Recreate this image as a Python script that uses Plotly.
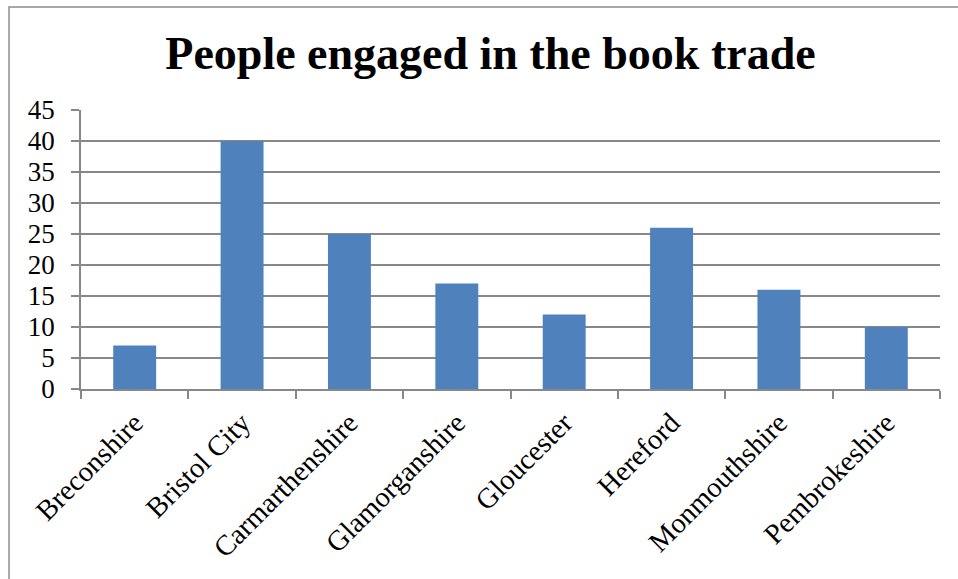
import plotly.graph_objects as go

# Book-trade workers per county
counties = ["Breconshire", "Bristol City", "Carmarthenshire", "Glamorganshire",
            "Gloucester", "Hereford", "Monmouthshire", "Pembrokeshire"]
people = [7, 40, 25, 17, 12, 26, 16, 10]
y_ticks = [0, 5, 10, 15, 20, 25, 30, 35, 40, 45]

serif = "Liberation Serif, DejaVu Serif, serif"
grid_grey = "#888888"

fig = go.Figure(
    go.Bar(
        x=counties,
        y=people,
        marker=dict(color="#4F81BD", line=dict(width=0)),
    )
)

fig.update_layout(
    width=958,
    height=579,
    margin=dict(l=81, r=18, t=110, b=190),
    paper_bgcolor="white",
    plot_bgcolor="white",
    bargap=0.6,
    showlegend=False,
    title=dict(
        text="<b>People engaged in the book trade</b>",
        x=0.512,
        xanchor="center",
        y=0.908,
        yanchor="middle",
        font=dict(family=serif, size=46, color="black"),
    ),
    font=dict(family=serif, size=20, color="black"),
    shapes=[
        dict(type="rect", xref="paper", yref="paper",
             x0=-0.0838, x1=1.1, y0=-1.0, y1=1.369,
             line=dict(color="#8c8c8c", width=1.5), layer="below"),
    ],
)

fig.update_xaxes(
    type="category",
    tickangle=-45,
    showgrid=False,
    showline=True,
    linecolor=grid_grey,
    linewidth=1.5,
    ticks="outside",
    tickson="boundaries",
    ticklen=8,
    tickwidth=1.5,
    tickcolor=grid_grey,
    tickfont=dict(family=serif, size=28.5),
    ticklabelstandoff=4,
    automargin=False,
)

fig.update_yaxes(
    range=[0, 45],
    tickvals=y_ticks,
    showgrid=True,
    gridcolor=grid_grey,
    gridwidth=1.5,
    showline=True,
    linecolor=grid_grey,
    linewidth=1.5,
    ticks="outside",
    ticklen=8,
    tickwidth=1.5,
    tickcolor=grid_grey,
    tickfont=dict(family=serif, size=27),
    ticklabelstandoff=11,
    zeroline=False,
    automargin=False,
)

fig.write_html("out.html")
